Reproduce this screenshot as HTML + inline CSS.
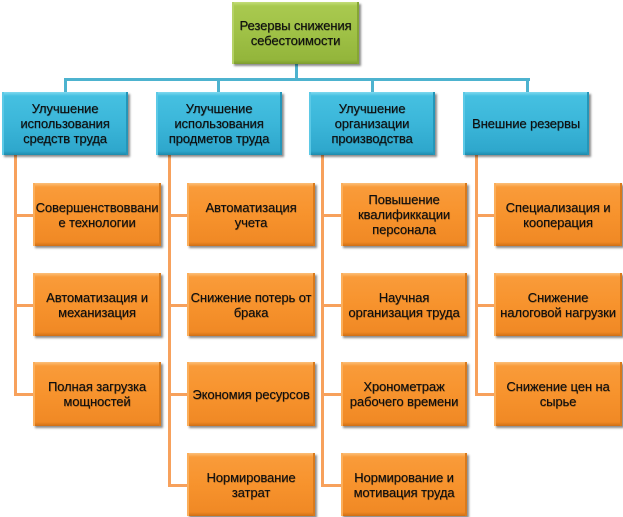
<!DOCTYPE html>
<html><head><meta charset="utf-8">
<style>
html,body{margin:0;padding:0;background:#fff;}
body{width:623px;height:517px;position:relative;overflow:hidden;font-family:"Liberation Sans","DejaVu Sans",sans-serif;}
.b{position:absolute;display:flex;align-items:center;justify-content:center;text-align:center;font-size:13px;line-height:15px;color:#0e0e0e;white-space:nowrap;box-sizing:border-box;box-shadow:2px 2px 2px rgba(0,0,0,0.45);text-shadow:0.4px 0.4px 0.6px rgba(0,0,0,0.55);letter-spacing:-0.1px;}
.g{background:linear-gradient(180deg,#c4de7a 0,#a9c94f 4px,#9fc146 50%,#93b53b calc(100% - 4px),#7d9c2e 100%);border-left:2px solid #b5d266;border-right:2px solid #86a634;}
.bl{background:linear-gradient(180deg,#7fd9ef 0,#45c0e1 4px,#3bb6d9 50%,#2ea7cc calc(100% - 4px),#1d8aac 100%);border-left:2px solid #5cc9e6;border-right:2px solid #2496b9;}
.o{background:linear-gradient(180deg,#fcc07a 0,#f99b3a 4px,#f7932d 50%,#f08925 calc(100% - 4px),#cf6f15 100%);border-left:2px solid #fbae5a;border-right:2px solid #d97a1c;}
.l{position:absolute;}
.lb{background:#4db3cf;}
.lo{background:#f7a15c;}
</style></head><body>

<!-- blue connectors -->
<div class="l lb" style="left:295px;top:64px;width:3px;height:17px"></div>
<div class="l lb" style="left:64px;top:78px;width:466px;height:3px"></div>
<div class="l lb" style="left:64px;top:78px;width:3px;height:15px"></div>
<div class="l lb" style="left:217px;top:78px;width:3px;height:15px"></div>
<div class="l lb" style="left:371px;top:78px;width:3px;height:15px"></div>
<div class="l lb" style="left:526px;top:78px;width:3px;height:15px"></div>

<!-- orange connectors -->
<div class="l lo" style="left:14px;top:154px;width:3px;height:242px"></div>
<div class="l lo" style="left:14px;top:214px;width:20px;height:3px"></div>
<div class="l lo" style="left:14px;top:304px;width:20px;height:3px"></div>
<div class="l lo" style="left:14px;top:393px;width:20px;height:3px"></div>

<div class="l lo" style="left:168px;top:154px;width:3px;height:333px"></div>
<div class="l lo" style="left:168px;top:214px;width:20px;height:3px"></div>
<div class="l lo" style="left:168px;top:304px;width:20px;height:3px"></div>
<div class="l lo" style="left:168px;top:393px;width:20px;height:3px"></div>
<div class="l lo" style="left:168px;top:484px;width:20px;height:3px"></div>

<div class="l lo" style="left:321px;top:154px;width:3px;height:333px"></div>
<div class="l lo" style="left:321px;top:214px;width:21px;height:3px"></div>
<div class="l lo" style="left:321px;top:304px;width:21px;height:3px"></div>
<div class="l lo" style="left:321px;top:393px;width:21px;height:3px"></div>
<div class="l lo" style="left:321px;top:484px;width:21px;height:3px"></div>

<div class="l lo" style="left:475px;top:154px;width:3px;height:242px"></div>
<div class="l lo" style="left:475px;top:214px;width:20px;height:3px"></div>
<div class="l lo" style="left:475px;top:304px;width:20px;height:3px"></div>
<div class="l lo" style="left:475px;top:393px;width:20px;height:3px"></div>

<!-- top -->
<div class="b g" style="left:232px;top:2px;width:127px;height:62px">Резервы снижения<br>себестоимости</div>

<!-- blue -->
<div class="b bl" style="left:2px;top:92px;width:126px;height:63px">Улучшение<br>использования<br>средств труда</div>
<div class="b bl" style="left:156px;top:92px;width:126px;height:63px">Улучшение<br>использования<br>продметов труда</div>
<div class="b bl" style="left:309px;top:92px;width:126px;height:63px">Улучшение<br>организации<br>производства</div>
<div class="b bl" style="left:463px;top:92px;width:126px;height:63px">Внешние резервы</div>

<!-- orange col 1 -->
<div class="b o" style="left:33px;top:183px;width:128px;height:63px">Совершенствоввани<br>е технологии</div>
<div class="b o" style="left:33px;top:273px;width:128px;height:63px">Автоматизация и<br>механизация</div>
<div class="b o" style="left:33px;top:362px;width:128px;height:64px">Полная загрузка<br>мощностей</div>

<!-- col 2 -->
<div class="b o" style="left:187px;top:183px;width:128px;height:63px">Автоматизация<br>учета</div>
<div class="b o" style="left:187px;top:273px;width:128px;height:63px">Снижение потерь от<br>брака</div>
<div class="b o" style="left:187px;top:362px;width:128px;height:64px">Экономия ресурсов</div>
<div class="b o" style="left:187px;top:453px;width:128px;height:63px">Нормирование<br>затрат</div>

<!-- col 3 -->
<div class="b o" style="left:341px;top:183px;width:126px;height:63px">Повышение<br>квалификкации<br>персонала</div>
<div class="b o" style="left:341px;top:273px;width:126px;height:63px">Научная<br>организация труда</div>
<div class="b o" style="left:341px;top:362px;width:126px;height:64px">Хронометраж<br>рабочего времени</div>
<div class="b o" style="left:341px;top:453px;width:126px;height:63px">Нормирование и<br>мотивация труда</div>

<!-- col 4 -->
<div class="b o" style="left:494px;top:183px;width:128px;height:63px">Специализация и<br>кооперация</div>
<div class="b o" style="left:494px;top:273px;width:128px;height:63px">Снижение<br>налоговой нагрузки</div>
<div class="b o" style="left:494px;top:362px;width:128px;height:64px">Снижение цен на<br>сырье</div>

</body></html>
